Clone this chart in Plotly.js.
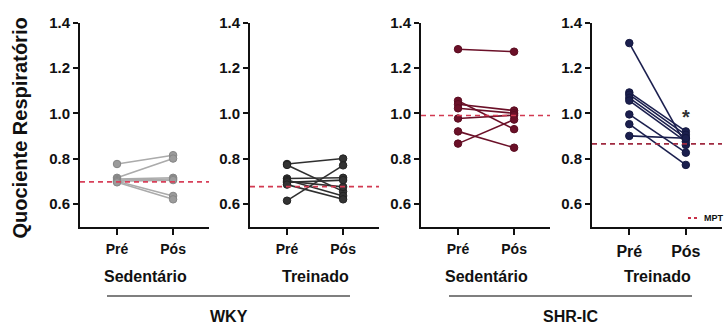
<!DOCTYPE html>
<html>
<head>
<meta charset="utf-8">
<script src="https://cdn.plot.ly/plotly-3.0.1.min.js"></script>
<style>html,body{margin:0;padding:0;background:#fff;}#chart{width:726px;height:324px;}</style>
</head>
<body>
<div id="chart"></div>
<script>
// ---- data ----
const xCats = ['Pré', 'Pós'];
const groupLabels = ['Sedentário', 'Treinado', 'Sedentário', 'Treinado'];
const strainLabels = ['WKY', 'SHR-IC'];
const yTickVals = [0.6, 0.8, 1.0, 1.2, 1.4];
const yTitle = 'Quociente Respiratório';

const wkySedPre = [0.776, 0.715, 0.710, 0.705, 0.700, 0.700, 0.695];
const wkySedPos = [0.815, 0.800, 0.715, 0.710, 0.705, 0.635, 0.620];

const wkyTrPre = [0.776, 0.772, 0.712, 0.705, 0.700, 0.695, 0.685, 0.614];
const wkyTrPos = [0.800, 0.655, 0.715, 0.635, 0.675, 0.705, 0.620, 0.770];

const shrSedPre = [1.283, 1.055, 1.040, 1.022, 0.977, 0.920, 0.866];
const shrSedPos = [1.272, 0.930, 1.012, 1.000, 0.992, 0.848, 0.972];

const shrTrPre = [1.310, 1.092, 1.082, 1.068, 1.056, 0.995, 0.952, 0.900];
const shrTrPos = [0.860, 0.920, 0.905, 0.890, 0.875, 0.826, 0.772, 0.890];

const mptValues = [0.697, 0.676, 0.990, 0.865];
const mptLabel = 'MPT';
const sigMark = '*';
const sigValue = 0.985;

// ---- styling ----
const W = 726, H = 324;
const FONT = '"Liberation Sans", Arial, sans-serif';
const panels = [
  {pre: wkySedPre, pos: wkySedPos, line: '#ababab', mk: '#9b9b9b', mkl: '#858585', x0: 80, x1: 209, xfs: 14},
  {pre: wkyTrPre, pos: wkyTrPos, line: '#2f2f2f', mk: '#333333', mkl: '#222222', x0: 250, x1: 379, xfs: 14},
  {pre: shrSedPre, pos: shrSedPos, line: '#6b1028', mk: '#6b1028', mkl: '#5a0c20', x0: 421, x1: 550, xfs: 14},
  {pre: shrTrPre, pos: shrTrPos, line: '#1b1f4e', mk: '#1b1f4e', mkl: '#141840', x0: 592, x1: 722, xfs: 16}
];
const mptColors = ['#d8405a', '#d23a52', '#d23a52', '#a02a40'];
const yTopPx = 22.7, yBotPx = 226.5;
const px2x = p => p / W;
const px2y = p => (H - p) / H;

const traces = [];
const layout = {
  width: W, height: H,
  margin: {l: 0, r: 0, t: 0, b: 0},
  paper_bgcolor: '#fff', plot_bgcolor: '#fff',
  showlegend: false,
  font: {family: FONT, color: '#111'},
  shapes: [], annotations: []
};

panels.forEach((p, i) => {
  const n = i + 1;
  const xa = n === 1 ? 'x' : 'x' + n;
  const ya = n === 1 ? 'y' : 'y' + n;
  for (let k = 0; k < p.pre.length; k++) {
    traces.push({
      type: 'scatter', mode: 'lines+markers',
      x: xCats, y: [p.pre[k], p.pos[k]],
      xaxis: xa, yaxis: ya,
      line: {color: p.line, width: 1.6},
      marker: {color: p.mk, size: 7.5, line: {color: p.mkl, width: 1}},
      hoverinfo: 'skip', cliponaxis: false
    });
  }
  layout[n === 1 ? 'xaxis' : 'xaxis' + n] = {
    domain: [px2x(p.x0), px2x(p.x1)],
    anchor: ya, type: 'category',
    range: [-0.66, 1.64],
    showline: true, linewidth: 2, linecolor: '#111',
    ticks: 'outside', ticklen: 6, tickwidth: 2, tickcolor: '#111',
    tickfont: {family: FONT, size: p.xfs, weight: 'bold', color: '#111'},
    ticklabelstandoff: 3,
    showgrid: false, zeroline: false, fixedrange: true
  };
  layout[n === 1 ? 'yaxis' : 'yaxis' + n] = {
    domain: [px2y(yBotPx), px2y(yTopPx)],
    anchor: xa, range: [0.5, 1.4],
    tickvals: yTickVals, tickformat: '.1f',
    showline: true, linewidth: 2, linecolor: '#111',
    ticks: 'outside', ticklen: 5, tickwidth: 2, tickcolor: '#111',
    tickfont: {family: FONT, size: 15, weight: 'bold', color: '#111'},
    showgrid: false, zeroline: false, fixedrange: true
  };
  layout.shapes.push({
    type: 'line', xref: xa + ' domain', yref: ya,
    x0: 0, x1: 1, y0: mptValues[i], y1: mptValues[i],
    line: {color: mptColors[i], width: 1.6, dash: '5px,4px'}
  });
  layout.annotations.push({
    xref: 'paper', yref: 'paper',
    x: px2x((p.x0 + 37 + p.x0 + 93) / 2), y: px2y(276.5),
    text: groupLabels[i], showarrow: false,
    font: {family: FONT, size: 16, weight: 'bold', color: '#111'},
    xanchor: 'center', yanchor: 'middle'
  });
});

// strain group lines and labels
const strainSpans = [[107, 350], [449, 692]];
strainSpans.forEach((s, j) => {
  layout.shapes.push({
    type: 'line', xref: 'paper', yref: 'paper',
    x0: px2x(s[0]), x1: px2x(s[1]), y0: px2y(296), y1: px2y(296),
    line: {color: '#555', width: 1.5}
  });
  layout.annotations.push({
    xref: 'paper', yref: 'paper',
    x: px2x((s[0] + s[1]) / 2), y: px2y(316),
    text: strainLabels[j], showarrow: false,
    font: {family: FONT, size: 16, weight: 'bold', color: '#111'},
    xanchor: 'center', yanchor: 'middle'
  });
});

// y axis title
layout.annotations.push({
  xref: 'paper', yref: 'paper', x: px2x(19), y: px2y(128.5),
  text: yTitle, textangle: -90, showarrow: false,
  font: {family: FONT, size: 20, weight: 'bold', color: '#111'},
  xanchor: 'center', yanchor: 'middle'
});

// significance mark
layout.annotations.push({
  xref: 'x4', yref: 'y4', x: xCats[1], y: sigValue,
  text: sigMark, showarrow: false,
  font: {family: FONT, size: 20, weight: 'bold', color: '#333'},
  xanchor: 'center', yanchor: 'middle'
});

// MPT legend
layout.shapes.push({
  type: 'line', xref: 'paper', yref: 'paper',
  x0: px2x(688), x1: px2x(699), y0: px2y(218), y1: px2y(218),
  line: {color: '#c83048', width: 2, dash: 'dot'}
});
layout.annotations.push({
  xref: 'paper', yref: 'paper', x: px2x(702), y: px2y(218),
  text: mptLabel, showarrow: false,
  font: {family: FONT, size: 9, weight: 'bold', color: '#111'},
  xanchor: 'left', yanchor: 'middle'
});

Plotly.newPlot('chart', traces, layout, {displayModeBar: false, staticPlot: true});
</script>
</body>
</html>
